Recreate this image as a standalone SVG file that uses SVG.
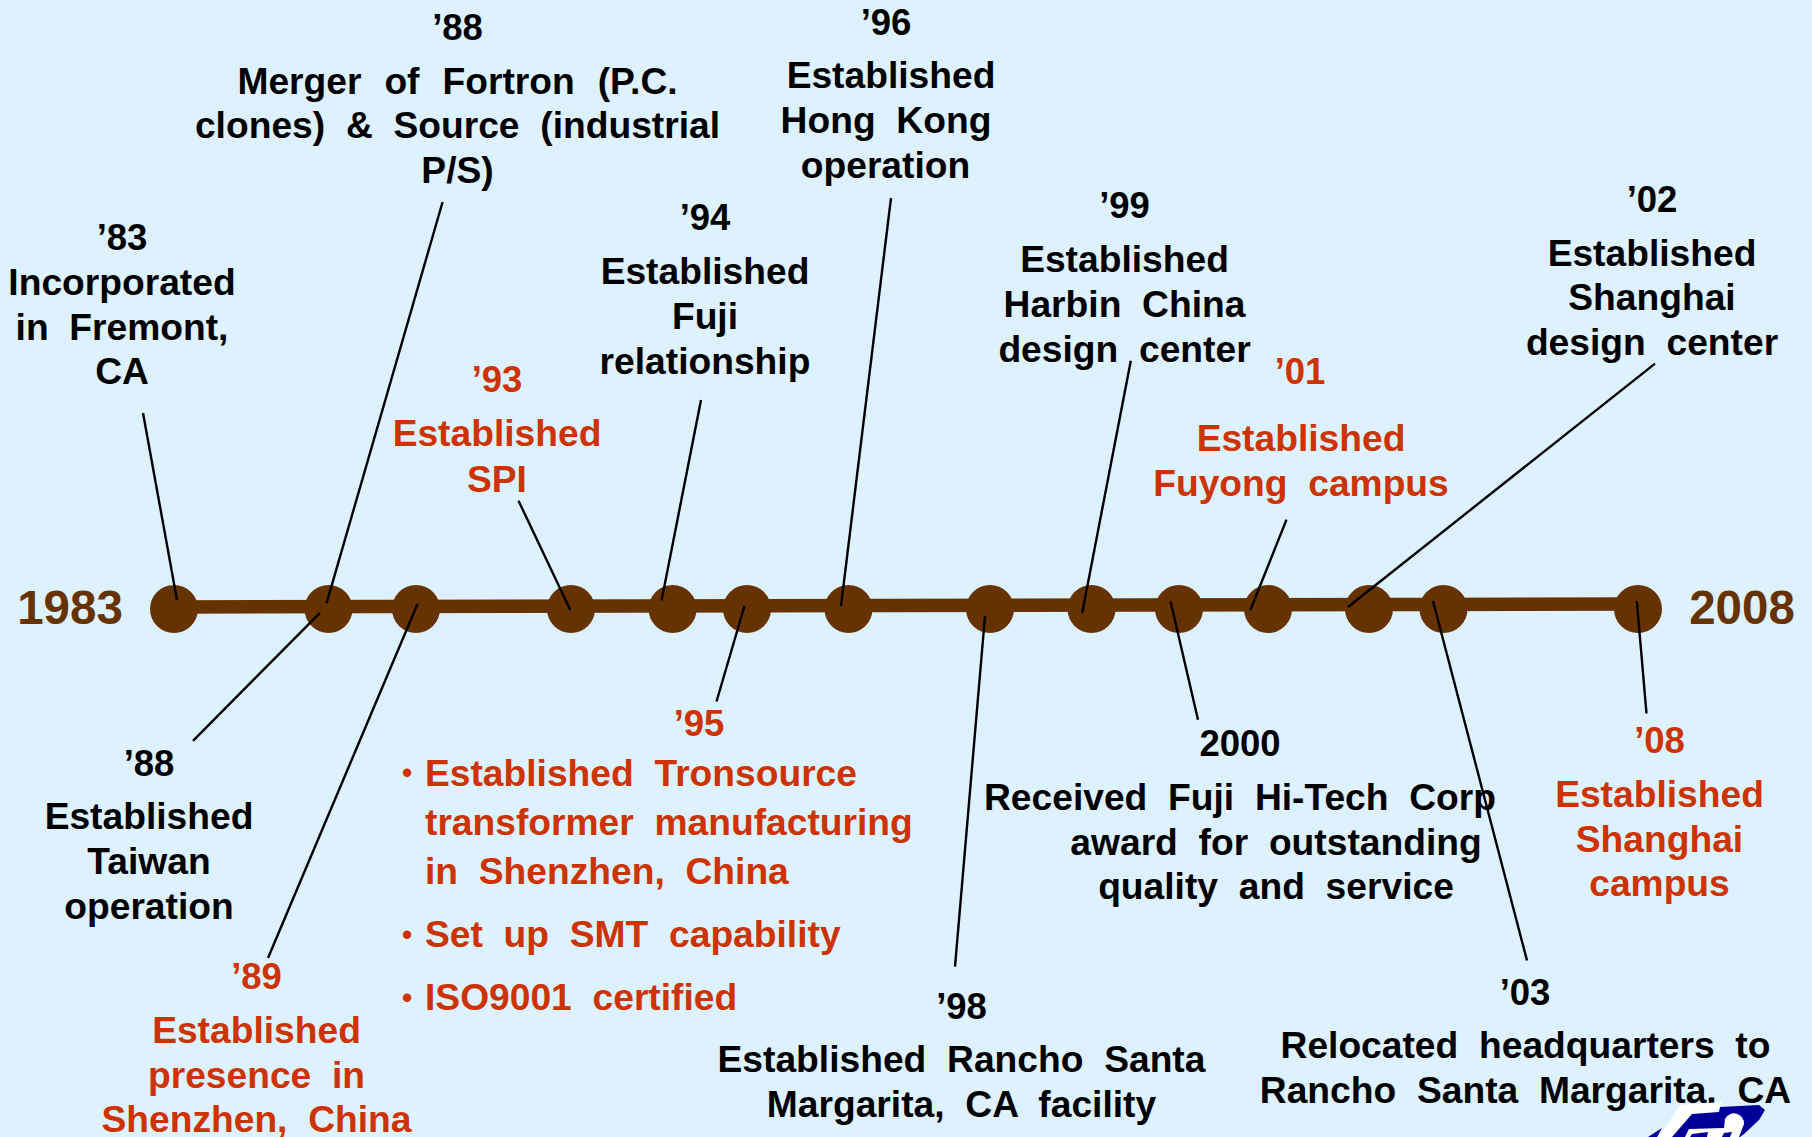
<svg xmlns="http://www.w3.org/2000/svg" width="1812" height="1137" viewBox="0 0 1812 1137">
<style>
text{font-family:"Liberation Sans",Arial,sans-serif;font-weight:700;font-size:37.2px;word-spacing:.28em;text-anchor:middle;fill:#000}
.r text{fill:#cc3300}
.r text.b{font-size:29px}
text.s{text-anchor:start}
text.y{font-size:36.5px}
text.w{word-spacing:.34em}
text.big{font-size:47.5px;fill:#663300}
.c{stroke:#000;stroke-width:2.4;fill:none}
.d{fill:#663300}
</style>
<rect width="1812" height="1137" fill="#ddf1ff"/>
<g id="timeline">
<line x1="174" y1="607" x2="1638" y2="604" stroke="#663300" stroke-width="13.5"/>
<ellipse class="d" cx="174" cy="609" rx="24" ry="24"/>
<ellipse class="d" cx="328.5" cy="609" rx="24" ry="24"/>
<ellipse class="d" cx="416" cy="609" rx="24" ry="24"/>
<ellipse class="d" cx="571" cy="609" rx="24" ry="24"/>
<ellipse class="d" cx="672.6" cy="609" rx="24" ry="24"/>
<ellipse class="d" cx="747" cy="609" rx="24" ry="24"/>
<ellipse class="d" cx="848.5" cy="609" rx="24" ry="24"/>
<ellipse class="d" cx="990" cy="609" rx="24" ry="24"/>
<ellipse class="d" cx="1091.5" cy="609" rx="24" ry="24"/>
<ellipse class="d" cx="1179" cy="609" rx="24" ry="24"/>
<ellipse class="d" cx="1268" cy="609" rx="24" ry="24"/>
<ellipse class="d" cx="1369" cy="609" rx="24" ry="24"/>
<ellipse class="d" cx="1443.5" cy="609" rx="24" ry="24"/>
<ellipse class="d" cx="1638" cy="609" rx="24" ry="24"/>
</g>
<g id="connectors">
<line class="c" x1="143" y1="413" x2="177" y2="600"/>
<line class="c" x1="442.6" y1="202" x2="326.5" y2="603.4"/>
<line class="c" x1="518.5" y1="500.7" x2="570.3" y2="610"/>
<line class="c" x1="701" y1="400" x2="661.6" y2="600.5"/>
<line class="c" x1="891" y1="198" x2="841" y2="606"/>
<line class="c" x1="1130.8" y1="360.7" x2="1082.2" y2="613"/>
<line class="c" x1="1286.5" y1="519.6" x2="1250.4" y2="610"/>
<line class="c" x1="1655" y1="363.6" x2="1348" y2="607"/>
<line class="c" x1="320" y1="612.8" x2="193" y2="740.8"/>
<line class="c" x1="417.5" y1="604" x2="268" y2="958"/>
<line class="c" x1="744.5" y1="606" x2="716.5" y2="701.5"/>
<line class="c" x1="985" y1="616" x2="955" y2="966.6"/>
<line class="c" x1="1170.6" y1="601.5" x2="1198" y2="719.7"/>
<line class="c" x1="1433" y1="601" x2="1527" y2="960.5"/>
<line class="c" x1="1636.8" y1="601" x2="1646.5" y2="713.5"/>
</g>
<g id="start"><text class="big" x="70" y="624">1983</text></g>
<g id="end"><text class="big" x="1742" y="624">2008</text></g>
<g id="n83"><text class="y" x="122" y="250">’83</text><text x="122" y="295">Incorporated</text><text x="122" y="340">in Fremont,</text><text x="122" y="384">CA</text></g>
<g id="n88a"><text class="y" x="457.5" y="40">’88</text><text class="w" x="457.5" y="94">Merger of Fortron (P.C.</text><text x="457.5" y="137.5">clones) &amp; Source (industrial</text><text x="457.5" y="182.5">P/S)</text></g>
<g id="n94"><text class="y" x="705" y="230">’94</text><text x="705" y="283.5">Established</text><text x="705" y="329">Fuji</text><text x="705" y="374">relationship</text></g>
<g id="n93" class="r"><text class="y" x="497" y="392">’93</text><text x="497" y="446">Established</text><text x="497" y="491.5">SPI</text></g>
<g id="n96"><text class="y" x="886" y="35">’96</text><text x="891" y="88">Established</text><text x="886" y="132.5">Hong Kong</text><text x="885.5" y="178">operation</text></g>
<g id="n99"><text class="y" x="1124.5" y="218">’99</text><text x="1124.5" y="271.5">Established</text><text x="1124.5" y="317">Harbin China</text><text x="1124.5" y="362">design center</text></g>
<g id="n02"><text class="y" x="1652" y="212">’02</text><text x="1652" y="265.5">Established</text><text x="1652" y="310">Shanghai</text><text x="1652" y="354.5">design center</text></g>
<g id="n01" class="r"><text class="y" x="1300" y="383.5">’01</text><text x="1301" y="451">Established</text><text x="1301" y="496">Fuyong campus</text></g>
<g id="n88b"><text class="y" x="149" y="776">’88</text><text x="149" y="829">Established</text><text x="149" y="874">Taiwan</text><text x="149" y="919">operation</text></g>
<g id="n89" class="r"><text class="y" x="256.5" y="989">’89</text><text x="256.5" y="1042.5">Established</text><text x="256.5" y="1088">presence in</text><text x="256.5" y="1132">Shenzhen, China</text></g>
<g id="n95" class="r"><text class="y" x="699" y="736">’95</text>
<text class="b" x="407" y="783">•</text><text class="s" x="425" y="786">Established Tronsource</text><text class="s" x="425" y="835">transformer manufacturing</text><text class="s" x="425" y="884">in Shenzhen, China</text>
<text class="b" x="407" y="945">•</text><text class="s" x="425" y="947">Set up SMT capability</text>
<text class="b" x="407" y="1008">•</text><text class="s" x="425" y="1009.5">ISO9001 certified</text></g>
<g id="n98"><text class="y" x="961.5" y="1019">’98</text><text x="961.5" y="1072">Established Rancho Santa</text><text x="961.5" y="1117">Margarita, CA facility</text></g>
<g id="n2000"><text class="y" x="1240" y="756">2000</text><text x="1240" y="810">Received Fuji Hi-Tech Corp</text><text x="1276" y="855">award for outstanding</text><text x="1276" y="899">quality and service</text></g>
<g id="n03"><text class="y" x="1525" y="1005">’03</text><text x="1525.5" y="1058">Relocated headquarters to</text><text x="1525.5" y="1102.5">Rancho Santa Margarita, CA</text></g>
<g id="n08" class="r"><text class="y" x="1659.5" y="753">’08</text><text x="1659.5" y="807">Established</text><text x="1659.5" y="851.5">Shanghai</text><text x="1659.5" y="896">campus</text></g>
<g id="logo">
<path d="M1680 1105L1722 1102L1719 1109L1690 1137L1659 1137Z" fill="#fff"/>
<path d="M1720 1107L1759 1105L1765 1110L1759 1120L1744 1134L1740 1137L1672 1137L1692 1114L1719 1112Z" fill="#000099"/>
<path d="M1648 1137L1662 1128L1657 1137Z" fill="#000099"/>
<path d="M1689 1129L1724 1128L1725 1119A10 10 0 0 1 1744 1124L1739 1137L1685 1137Z" fill="#fff"/>
<path d="M1690 1137L1692 1134L1708 1132L1707 1137Z" fill="#000099"/>
<path d="M1722 1137L1724 1133L1732 1132L1730 1137Z" fill="#000099"/>
</g>
</svg>
